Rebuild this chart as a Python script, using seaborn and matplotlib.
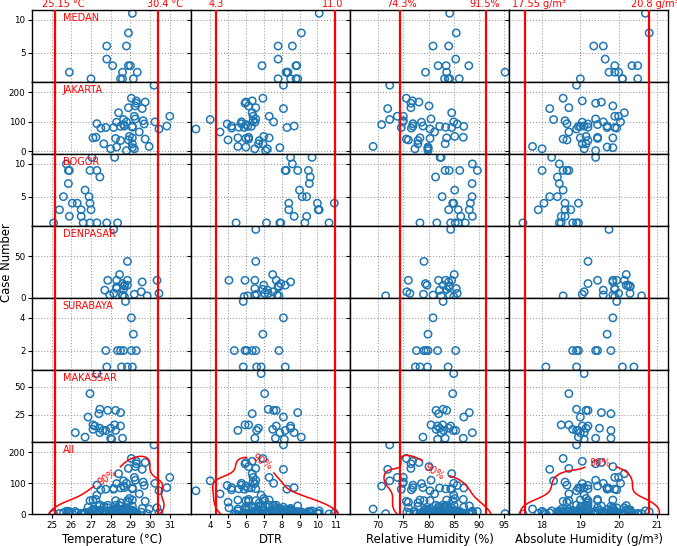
import numpy as np
import pandas as pd
import matplotlib
matplotlib.use("Agg")
import matplotlib.pyplot as plt
import seaborn as sns

# ---------------- data ----------------
cities = ["MEDAN", "JAKARTA", "BOGOR", "DENPASAR", "SURABAYA", "MAKASSAR"]

medan_cases = [11, 8, 6, 6, 4, 3, 3, 3, 2, 2, 2, 1, 1, 1, 1]
medan_temp = [29.1, 28.9, 27.8, 28.8, 27.8, 28.1, 28.9, 29.0, 25.9, 28.6, 29.35, 27.0, 28.5, 28.6, 29.15]
medan_dtr = [10.1, 9.1, 7.8, 8.6, 7.8, 6.9, 8.8, 8.85, 8.3, 8.35, 8.25, 7.8, 8.5, 8.8, 8.9]
medan_rh = [84.2, 85.5, 80.9, 84.0, 85.4, 81.9, 83.5, 88.0, 79.4, 83.6, 95.2, 83.2, 83.9, 84.2, 86.1]
medan_ah = [20.7, 20.8, 19.35, 19.6, 19.65, 19.9, 20.35, 20.5, 19.75, 19.9, 20.0, 19.0, 20.1, 20.5, 20.1]

jakarta_cases = [224, 180, 171, 167, 163, 154, 148, 145, 131, 119, 119, 110, 108, 104, 100, 100,
                 99, 94, 93, 91, 86, 86, 85, 85, 82, 81, 81, 79, 76, 66, 51, 48, 46, 46, 44, 42,
                 39, 37, 26, 26, 17, 15, 13, 9, 9, 3]
jakarta_temp = [30.2, 29.05, 29.3, 29.75, 29.3, 29.25, 28.9, 29.6, 28.4, 31.0, 29.2, 29.25, 28.65, 29.65,
                28.8, 30.25, 28.3, 27.3, 29.7, 28.65, 30.85, 28.7, 28.5, 29.1, 29.1, 27.75, 28.15, 27.5,
                30.45, 29.45, 28.95, 27.25, 27.1, 29.1, 28.25, 29.75, 28.9, 28.5, 27.65, 29.1, 29.95,
                28.3, 29.1, 28.0, 29.2, 28.8]
jakarta_dtr = [8.1, 6.95, 6.35, 6.0, 5.95, 6.15, 6.55, 8.1, 6.35, 7.3, 6.4, 6.55, 4.0, 6.4, 7.55, 5.75,
               6.5, 5.75, 4.95, 6.0, 8.7, 5.2, 6.1, 6.3, 5.6, 5.9, 8.3, 5.2, 3.2, 4.55, 7.0, 6.15, 5.55,
               7.3, 6.0, 6.15, 5.0, 6.75, 6.7, 6.95, 5.55, 6.0, 7.9, 6.5, 7.2, 7.1]
jakarta_rh = [72.3, 75.6, 76.8, 78.1, 76.5, 80.1, 76.5, 71.9, 84.6, 73.8, 75.0, 80.5, 72.3, 75.0, 85.0,
              74.9, 78.6, 76.9, 85.7, 70.7, 76.9, 78.9, 82.2, 87.0, 83.4, 74.6, 84.6, 76.6, 80.3, 81.2,
              85.2, 86.9, 83.6, 78.3, 80.3, 75.6, 76.0, 77.9, 83.3, 77.9, 69.0, 79.9, 79.9, 77.3, 79.9, 79.9]
jakarta_ah = [18.9, 18.55, 19.05, 19.55, 19.4, 19.85, 18.7, 18.2, 20.15, 19.9, 20.0, 19.4, 18.3, 18.6,
              19.6, 20.05, 19.05, 18.65, 19.2, 19.45, 19.1, 19.7, 19.0, 18.95, 19.2, 19.7, 19.9, 19.95,
              18.9, 18.7, 19.15, 19.45, 19.85, 19.0, 19.45, 18.55, 18.65, 19.2, 19.05, 19.15, 17.75,
              19.7, 19.85, 18.0, 19.1, 19.4]

bogor_cases = [11, 11, 10, 9, 9, 9, 9, 8, 7, 6, 5, 5, 4, 4, 4, 3, 3, 3, 2, 2, 1, 1, 1, 1, 1, 1]
bogor_temp = [27.05, 28.2, 25.75, 25.85, 25.9, 26.95, 27.3, 27.45, 25.85, 26.7, 25.6, 26.9, 26.05, 26.3,
              26.95, 25.4, 26.5, 27.0, 26.5, 25.9, 25.1, 26.6, 26.95, 27.3, 27.8, 28.35]
bogor_dtr = [8.5, 9.7, 8.6, 8.2, 8.25, 8.9, 9.5, 9.6, 9.55, 9.0, 9.15, 9.4, 8.4, 10.0, 10.95, 8.4, 10.05,
             10.1, 8.7, 9.4, 5.45, 7.15, 7.95, 7.9, 9.3, 10.65]
bogor_rh = [82.3, 82.5, 88.7, 83.3, 84.1, 86.2, 89.7, 81.4, 88.65, 85.2, 82.7, 88.65, 84.8, 85.0, 88.3,
            84.0, 85.9, 88.1, 86.4, 88.7, 78.3, 81.65, 84.4, 85.3, 85.9, 87.3]
bogor_ah = [18.25, 19.4, 18.45, 18.0, 18.55, 18.65, 18.7, 18.4, 18.45, 18.55, 18.2, 18.4, 18.05, 18.6,
            18.95, 17.9, 18.6, 18.75, 18.5, 18.6, 17.5, 18.45, 18.5, 18.8, 18.9, 18.95]

denpasar_cases = [83, 44, 28, 21, 21, 21, 21, 19, 17, 15, 15, 14, 13, 11, 10, 9, 7, 5, 5, 4, 3, 3, 2, 2, 1]
denpasar_temp = [28.15, 28.85, 28.45, 27.85, 28.3, 28.85, 30.35, 29.6, 28.6, 28.7, 28.85, 28.7, 28.3,
                 28.3, 28.65, 27.7, 29.55, 28.15, 30.45, 29.2, 27.95, 28.6, 28.6, 29.85, 28.7]
denpasar_dtr = [6.55, 6.55, 7.5, 5.05, 5.95, 6.5, 7.7, 8.5, 7.95, 8.2, 7.0, 7.8, 7.85, 6.5, 6.95, 7.2,
                7.5, 7.05, 7.25, 6.6, 6.5, 7.75, 6.1, 7.85, 5.9]
denpasar_rh = [84.4, 79.1, 85.1, 76.0, 82.0, 83.4, 84.6, 84.0, 79.4, 79.7, 82.9, 84.2, 84.0, 85.5, 83.6,
               82.2, 75.7, 76.3, 85.7, 79.0, 80.9, 84.2, 82.5, 71.5, 85.0]
denpasar_ah = [19.75, 19.2, 20.2, 19.45, 19.85, 19.95, 20.15, 19.85, 19.2, 20.2, 20.25, 20.3, 20.3, 19.9,
               19.9, 19.6, 19.1, 20.0, 20.3, 19.05, 19.6, 19.85, 18.55, 20.6, 19.9]

surabaya_cases = [5, 4, 3, 2, 2, 2, 2, 2, 2, 1, 1, 1, 1]
surabaya_temp = [28.75, 29.05, 29.15, 27.75, 28.35, 28.5, 28.65, 29.05, 29.3, 27.8, 28.55, 28.85, 29.1]
surabaya_dtr = [5.85, 8.1, 6.95, 5.35, 5.95, 6.05, 6.35, 6.55, 7.85, 5.85, 6.6, 6.85, 8.2]
surabaya_rh = [82.9, 80.9, 79.9, 77.6, 79.1, 79.5, 79.9, 81.8, 85.4, 77.4, 78.3, 79.8, 83.9]
surabaya_ah = [19.95, 19.85, 19.7, 18.8, 18.9, 18.95, 19.4, 19.45, 19.8, 18.1, 18.9, 20.1, 20.4]

makassar_cases = [62, 44, 30, 29, 29, 27, 26, 23, 16, 16, 15, 15, 13, 13, 12, 11, 11, 11, 9, 9, 5, 4, 4, 3]
makassar_temp = [27.3, 26.95, 27.45, 27.85, 28.25, 28.5, 27.4, 26.85, 27.1, 28.2, 27.2, 28.5, 27.45,
                 28.0, 27.1, 27.6, 27.75, 28.25, 26.2, 27.45, 26.7, 28.0, 28.6, 28.05]
makassar_dtr = [6.85, 7.05, 7.25, 7.55, 7.7, 8.9, 6.35, 8.1, 6.15, 5.95, 7.7, 8.5, 6.7, 8.5, 7.5, 5.55,
                6.6, 8.2, 8.7, 7.9, 9.1, 6.5, 7.65, 8.15]
makassar_rh = [85.0, 84.8, 82.9, 83.6, 81.5, 88.1, 82.0, 87.0, 80.5, 82.8, 81.8, 84.4, 82.2, 84.0, 81.5,
               83.0, 84.9, 85.4, 88.7, 82.5, 78.9, 83.3, 86.9, 81.8]
makassar_ah = [19.1, 18.7, 18.9, 19.15, 19.2, 19.55, 19.8, 19.0, 18.5, 18.7, 19.05, 19.2, 19.15, 19.5,
               18.8, 18.9, 18.95, 19.8, 19.0, 19.1, 18.95, 19.4, 19.8, 19.1]

variables = ["temp", "dtr", "rh", "ah"]
xlabels = ["Temperature (°C)", "DTR", "Relative Humidity (%)", "Absolute Humidity (g/m³)"]
thr_low = [25.15, 4.3, 74.3, 17.55]
thr_high = [30.4, 11.0, 91.5, 20.8]
thr_low_labels = ["25.15 °C", "4.3", "74.3%", "17.55 g/m³"]
thr_high_labels = ["30.4 °C", "11.0", "91.5%", "20.8 g/m³"]
xticks = [[25, 26, 27, 28, 29, 30, 31], [4, 5, 6, 7, 8, 9, 10, 11],
          [70, 75, 80, 85, 90, 95], [18, 19, 20, 21]]
row_names = cities + ["All"]
yticks = [[5, 10], [0, 100, 200], [5, 10], [0, 50], [2, 4], [25, 50], [0, 100, 200]]

# ---------------- layout / style ----------------
xlims = [(24.03, 32.1), (2.95, 11.85), (64.5, 96.05), (17.145, 21.3)]
ylims = [(0.5, 11.5), (-8.8, 234.7), (0.5, 11.5), (-0.8, 87), (0.8, 5.2), (0.4, 65), (0, 232.4)]
low_offsets_px = [-13, -7, -13.3, -12.7]
high_offsets_px = [-11, -13.3, -17.4, -18.6]
clabel_spots = [(28.0, 105), (6.8, 160), (79.5, 90), (19.5, 115)]
PT = 72 / 100.0

frames = {}
raw = {
    "MEDAN": (medan_cases, medan_temp, medan_dtr, medan_rh, medan_ah),
    "JAKARTA": (jakarta_cases, jakarta_temp, jakarta_dtr, jakarta_rh, jakarta_ah),
    "BOGOR": (bogor_cases, bogor_temp, bogor_dtr, bogor_rh, bogor_ah),
    "DENPASAR": (denpasar_cases, denpasar_temp, denpasar_dtr, denpasar_rh, denpasar_ah),
    "SURABAYA": (surabaya_cases, surabaya_temp, surabaya_dtr, surabaya_rh, surabaya_ah),
    "MAKASSAR": (makassar_cases, makassar_temp, makassar_dtr, makassar_rh, makassar_ah),
}
for name, (c, t, d, r, a) in raw.items():
    frames[name] = pd.DataFrame({"cases": c, "temp": t, "dtr": d, "rh": r, "ah": a})
frames["All"] = pd.concat([frames[n] for n in cities], ignore_index=True)

plt.rcParams["font.family"] = ["DejaVu Sans"]
fig, axes = plt.subplots(7, 4, figsize=(6.77, 5.46), dpi=100, sharex="col", sharey="row")
fig.subplots_adjust(left=0.048, right=0.9872, top=0.98168, bottom=0.05806, wspace=0, hspace=0)

blue = "#1f77b4"
for i, rname in enumerate(row_names):
    df = frames[rname]
    for j, var in enumerate(variables):
        ax = axes[i, j]
        ax.set_axisbelow(True)
        sns.scatterplot(data=df, x=var, y="cases", ax=ax, s=28, facecolor="none",
                        edgecolor=blue, linewidth=1.1, legend=False, zorder=2)
        ax.set_xlim(*xlims[j])
        ax.set_ylim(*ylims[i])
        if rname == "All":
            sns.kdeplot(data=df, x=var, y="cases", ax=ax, levels=[0.1], color="red",
                        linewidths=1.1, zorder=3, bw_adjust=1.3)
            ax.set_xlim(*xlims[j])
            ax.set_ylim(*ylims[i])
            cs = ax.collections[-1]
            ax.clabel(cs, fmt=lambda v: "90%", fontsize=7, inline=True, colors="red",
                      manual=[clabel_spots[j]])
        ax.axvline(thr_low[j], color="red", lw=1.6, zorder=4)
        ax.axvline(thr_high[j], color="red", lw=1.6, zorder=4)
        ax.grid(True, linestyle=":", color="#a0a0a0", linewidth=0.8)
        ax.set_xlim(*xlims[j])
        ax.set_ylim(*ylims[i])
        ax.set_xticks(xticks[j])
        ax.set_yticks(yticks[i])
        ax.tick_params(labelsize=6.3, length=3, width=0.8, pad=2)
        ax.set_xlabel("")
        ax.set_ylabel("")
        for sp in ax.spines.values():
            sp.set_linewidth(1.0)
        if j == 0:
            ax.text(0.19, 0.955, rname, transform=ax.transAxes, color="red",
                    fontsize=7, va="top", ha="left")

for j in range(4):
    axes[-1, j].set_xlabel(xlabels[j], fontsize=8.4, labelpad=2)
    top = axes[0, j]
    top.annotate(thr_low_labels[j], xy=(thr_low[j], 1), xycoords=("data", "axes fraction"),
                 xytext=(low_offsets_px[j] * PT, 0.5), textcoords="offset points",
                 color="red", fontsize=7, ha="left", va="bottom", annotation_clip=False)
    top.annotate(thr_high_labels[j], xy=(thr_high[j], 1), xycoords=("data", "axes fraction"),
                 xytext=(high_offsets_px[j] * PT, 0.5), textcoords="offset points",
                 color="red", fontsize=7, ha="left", va="bottom", annotation_clip=False)

fig.text(0.009, (0.98168 + 0.05806) / 2, "Case Number", rotation=90, fontsize=8.4,
         va="center", ha="center")

fig.savefig("out.png", dpi=100)
